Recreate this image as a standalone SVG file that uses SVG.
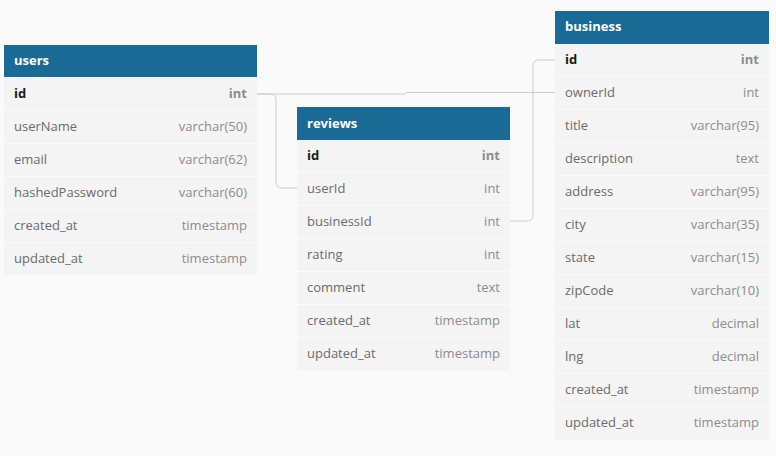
<svg xmlns="http://www.w3.org/2000/svg" width="776" height="456" viewBox="0 0 776 456">
<style>
.bg{fill:#fafafa}
.body{fill:#f4f4f4}
.hdr{fill:#196a94}
.sep{stroke:#fafafa;stroke-width:1}
.ht{font-family:"Open Sans","DejaVu Sans",sans-serif;font-size:13px;font-weight:bold;fill:#ffffff}
.n{font-family:"Open Sans","DejaVu Sans",sans-serif;font-size:13px;fill:#6b6b6b}
.t{font-family:"Open Sans","DejaVu Sans",sans-serif;font-size:13px;fill:#8c8c8c;text-anchor:end}
.pk{fill:#1a1a1a;font-weight:bold}
.pkt{font-weight:bold;fill:#8c8c8c}
.c{fill:none;stroke:#cdcdcd;stroke-width:1}
</style>
<rect class="bg" x="0" y="0" width="776" height="456"/>
<g id="connectors">
<path class="c" d="M257,94 H405 L407,92.5 H555"/>
<path class="c" d="M257,94 H270 Q276,94 276,100 V182 Q276,188 282,188 H297"/>
<path class="c" d="M510,221 H527 Q533,221 533,215 V66 Q533,60 539,60 H555"/>
</g>
<g id="users">
<rect class="body" x="4" y="77" width="253" height="198"/>
<rect class="hdr" x="4" y="45" width="253" height="32"/>
<text class="ht" x="14" y="65">users</text>
<line class="sep" x1="4" y1="110.5" x2="257" y2="110.5"/>
<line class="sep" x1="4" y1="143.5" x2="257" y2="143.5"/>
<line class="sep" x1="4" y1="176.5" x2="257" y2="176.5"/>
<line class="sep" x1="4" y1="209.5" x2="257" y2="209.5"/>
<line class="sep" x1="4" y1="242.5" x2="257" y2="242.5"/>
<text class="n pk" x="14" y="98">id</text><text class="t pkt" x="247" y="98">int</text>
<text class="n" x="14" y="131">userName</text><text class="t" x="247" y="131">varchar(50)</text>
<text class="n" x="14" y="164">email</text><text class="t" x="247" y="164">varchar(62)</text>
<text class="n" x="14" y="197">hashedPassword</text><text class="t" x="247" y="197">varchar(60)</text>
<text class="n" x="14" y="230">created_at</text><text class="t" x="247" y="230">timestamp</text>
<text class="n" x="14" y="263">updated_at</text><text class="t" x="247" y="263">timestamp</text>
</g>
<g id="reviews">
<rect class="body" x="297" y="140" width="213" height="231"/>
<rect class="hdr" x="297" y="107" width="213" height="33"/>
<text class="ht" x="307" y="128">reviews</text>
<line class="sep" x1="297" y1="172.5" x2="510" y2="172.5"/>
<line class="sep" x1="297" y1="205.5" x2="510" y2="205.5"/>
<line class="sep" x1="297" y1="238.5" x2="510" y2="238.5"/>
<line class="sep" x1="297" y1="271.5" x2="510" y2="271.5"/>
<line class="sep" x1="297" y1="304.5" x2="510" y2="304.5"/>
<line class="sep" x1="297" y1="337.5" x2="510" y2="337.5"/>
<text class="n pk" x="307" y="160">id</text><text class="t pkt" x="500" y="160">int</text>
<text class="n" x="307" y="193">userId</text><text class="t" x="500" y="193">int</text>
<text class="n" x="307" y="226">businessId</text><text class="t" x="500" y="226">int</text>
<text class="n" x="307" y="259">rating</text><text class="t" x="500" y="259">int</text>
<text class="n" x="307" y="292">comment</text><text class="t" x="500" y="292">text</text>
<text class="n" x="307" y="325">created_at</text><text class="t" x="500" y="325">timestamp</text>
<text class="n" x="307" y="358">updated_at</text><text class="t" x="500" y="358">timestamp</text>
</g>
<g id="business">
<rect class="body" x="555" y="44" width="214" height="396"/>
<rect class="hdr" x="555" y="11" width="214" height="33"/>
<text class="ht" x="565" y="31">business</text>
<line class="sep" x1="555" y1="76.5" x2="769" y2="76.5"/>
<line class="sep" x1="555" y1="109.5" x2="769" y2="109.5"/>
<line class="sep" x1="555" y1="142.5" x2="769" y2="142.5"/>
<line class="sep" x1="555" y1="175.5" x2="769" y2="175.5"/>
<line class="sep" x1="555" y1="208.5" x2="769" y2="208.5"/>
<line class="sep" x1="555" y1="241.5" x2="769" y2="241.5"/>
<line class="sep" x1="555" y1="274.5" x2="769" y2="274.5"/>
<line class="sep" x1="555" y1="307.5" x2="769" y2="307.5"/>
<line class="sep" x1="555" y1="340.5" x2="769" y2="340.5"/>
<line class="sep" x1="555" y1="373.5" x2="769" y2="373.5"/>
<line class="sep" x1="555" y1="406.5" x2="769" y2="406.5"/>
<text class="n pk" x="565" y="64">id</text><text class="t pkt" x="759" y="64">int</text>
<text class="n" x="565" y="97">ownerId</text><text class="t" x="759" y="97">int</text>
<text class="n" x="565" y="130">title</text><text class="t" x="759" y="130">varchar(95)</text>
<text class="n" x="565" y="163">description</text><text class="t" x="759" y="163">text</text>
<text class="n" x="565" y="196">address</text><text class="t" x="759" y="196">varchar(95)</text>
<text class="n" x="565" y="229">city</text><text class="t" x="759" y="229">varchar(35)</text>
<text class="n" x="565" y="262">state</text><text class="t" x="759" y="262">varchar(15)</text>
<text class="n" x="565" y="295">zipCode</text><text class="t" x="759" y="295">varchar(10)</text>
<text class="n" x="565" y="328">lat</text><text class="t" x="759" y="328">decimal</text>
<text class="n" x="565" y="361">lng</text><text class="t" x="759" y="361">decimal</text>
<text class="n" x="565" y="394">created_at</text><text class="t" x="759" y="394">timestamp</text>
<text class="n" x="565" y="427">updated_at</text><text class="t" x="759" y="427">timestamp</text>
</g>
</svg>
